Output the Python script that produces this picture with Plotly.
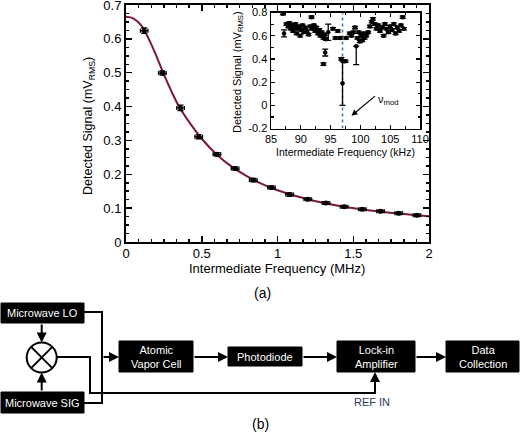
import plotly.graph_objects as go

# ---------------- data: main panel ----------------
freq_mhz = [0.12, 0.24, 0.36, 0.48, 0.60, 0.72, 0.84, 0.96, 1.08, 1.20, 1.32, 1.44, 1.56, 1.68, 1.80, 1.92]
signal_mv = [0.624, 0.499, 0.396, 0.311, 0.259, 0.217, 0.183, 0.161, 0.140, 0.126, 0.115, 0.104, 0.097, 0.091, 0.085, 0.079]
signal_err = [0.008, 0.006, 0.008, 0.006, 0.005, 0.005, 0.005, 0.005, 0.005, 0.004, 0.004, 0.004, 0.004, 0.004, 0.004, 0.004]
freq_err = [0.025] * 16

fit_x = [0, 0.05, 0.1, 0.15, 0.2, 0.25, 0.3, 0.35, 0.4, 0.5, 0.6, 0.7, 0.8, 0.9, 1.0, 1.2, 1.4, 1.6, 1.8, 2.0]
fit_y = [0.665, 0.660, 0.640, 0.600, 0.550, 0.495, 0.445, 0.400, 0.365, 0.305, 0.258, 0.222, 0.194, 0.171, 0.153, 0.126, 0.107, 0.094, 0.084, 0.076]

main_xticks = [0, 0.5, 1, 1.5, 2]
main_xticklabels = ["0", "0.5", "1", "1.5", "2"]
main_yticks = [0, 0.1, 0.2, 0.3, 0.4, 0.5, 0.6, 0.7]
main_yticklabels = ["0", "0.1", "0.2", "0.3", "0.4", "0.5", "0.6", "0.7"]

# ---------------- data: inset ----------------
inset_khz = [87.0, 87.2, 87.6, 87.9, 88.1, 88.3, 88.5, 88.7, 88.9, 89.1, 89.3, 89.5, 89.7, 89.9, 90.1, 90.3,
             90.5, 90.7, 91.0, 91.3, 91.8,
             91.6, 91.9, 92.2, 92.4, 92.6, 92.9, 93.1, 93.3, 93.5, 93.8, 94.0, 94.2, 94.6, 94.1, 93.8,
             95.4, 95.8, 96.2, 96.6, 96.8, 97.0, 97.2, 97.6, 97.5,
             98.2, 98.5, 98.8, 99.1, 99.3, 99.5, 99.7, 99.9, 100.1, 100.3, 100.5, 100.7, 101.0, 101.3,
             101.6, 101.9, 102.1, 102.4, 102.7, 103.0, 103.3, 103.6, 103.9, 104.1, 104.4, 104.7, 105.0,
             105.3, 105.6, 105.9, 106.2, 106.5, 106.8, 107.1, 107.3]
inset_sig = [0.79, 0.62, 0.70, 0.68, 0.71, 0.66, 0.69, 0.64, 0.67, 0.70, 0.62, 0.66, 0.68, 0.60, 0.65, 0.69,
             0.63, 0.67, 0.64, 0.61, 0.76,
             0.68, 0.66, 0.69, 0.64, 0.67, 0.62, 0.65, 0.60, 0.63, 0.58, 0.61, 0.57, 0.63, 0.455, 0.355,
             0.66, 0.58, 0.64, 0.58, 0.40, 0.19, 0.38, 0.58, 0.38,
             0.62, 0.60, 0.63, 0.67, 0.51, 0.58, 0.63, 0.55, 0.60, 0.56, 0.62, 0.58, 0.60, 0.63,
             0.68, 0.72, 0.745, 0.70, 0.66, 0.69, 0.64, 0.67, 0.60, 0.70, 0.66, 0.63, 0.68,
             0.65, 0.70, 0.62, 0.67, 0.64, 0.69, 0.76, 0.66]
inset_err_plus = [0.01] * len(inset_khz)
inset_err_minus = [0.01] * len(inset_khz)
inset_err_plus[1] = inset_err_minus[1] = 0.03     # 87.2 kHz
inset_err_plus[33] = inset_err_minus[33] = 0.07   # 94.6 kHz
inset_err_plus[34] = inset_err_minus[34] = 0.03   # 94.1 kHz
inset_err_plus[41] = inset_err_minus[41] = 0.19   # 97.0 kHz
inset_err_plus[49] = 0.0
inset_err_minus[49] = 0.16                        # 99.3 kHz
inset_ferr = [0.3] * len(inset_khz)
nu_mod_khz = 97.0
inset_yrange = [-0.2, 0.8]

inset_xticks = [85, 90, 95, 100, 105, 110]
inset_xticklabels = ["85", "90", "95", "100", "105", "110"]
inset_yticks = [-0.2, 0, 0.2, 0.4, 0.6, 0.8]
inset_yticklabels = ["-0.2", "0", "0.2", "0.4", "0.6", "0.8"]

# ---------------- block diagram labels ----------------
block_labels = ["Microwave LO", "Microwave SIG", "Atomic<br>Vapor Cell", "Photodiode",
                "Lock-in<br>Amplifier", "Data<br>Collection"]

FONT = "Liberation Sans, Arial, Helvetica, sans-serif"
W, H = 520, 432


def px(xp):
    return xp / W


def py(yp):
    return (H - yp) / H


fig = go.Figure()

# main fit curve
fig.add_trace(go.Scatter(x=fit_x, y=fit_y, mode="lines", line=dict(color="#7b1a35", width=2, shape="spline"),
                         xaxis="x", yaxis="y", hoverinfo="skip"))
# main data
fig.add_trace(go.Scatter(x=freq_mhz, y=signal_mv, mode="markers",
                         marker=dict(color="black", size=5),
                         error_y=dict(type="data", array=signal_err, color="black", thickness=1.3, width=3),
                         error_x=dict(type="data", array=freq_err, color="black", thickness=1.3, width=2),
                         xaxis="x", yaxis="y"))

# inset: modulation frequency dotted line
fig.add_trace(go.Scatter(x=[nu_mod_khz, nu_mod_khz], y=inset_yrange, mode="lines",
                         line=dict(color="#3f7fc0", width=1.6, dash="dot"), xaxis="x2", yaxis="y2",
                         hoverinfo="skip"))
# inset data
fig.add_trace(go.Scatter(x=inset_khz, y=inset_sig, mode="markers",
                         marker=dict(color="black", size=4.5),
                         error_y=dict(type="data", symmetric=False, array=inset_err_plus,
                                      arrayminus=inset_err_minus, color="black", thickness=1.3, width=3),
                         error_x=dict(type="data", array=inset_ferr, color="black", thickness=1.3, width=0),
                         xaxis="x2", yaxis="y2"))

# diagram: invisible trace to activate x3/y3
fig.add_trace(go.Scatter(x=[0], y=[432], mode="markers", marker=dict(opacity=0), xaxis="x3", yaxis="y3",
                         hoverinfo="skip"))

main_axis = dict(showline=True, linewidth=2, linecolor="black", mirror="allticks", ticks="inside",
                 ticklen=6, tickwidth=1.5, tickcolor="black", showgrid=False, zeroline=False,
                 automargin=False, ticklabeloverflow="allow",
                 tickfont=dict(size=13, color="black", family=FONT))
inset_axis = dict(showline=True, linewidth=1.5, linecolor="black", mirror="allticks", ticks="inside",
                  ticklen=4, tickwidth=1.2, tickcolor="black", showgrid=False, zeroline=False,
                  automargin=False, ticklabeloverflow="allow",
                  tickfont=dict(size=11, color="black", family=FONT))

layout = dict(
    template="none",
    width=W, height=H, margin=dict(l=0, r=0, t=0, b=0, pad=0, autoexpand=False), showlegend=False,
    paper_bgcolor="white", plot_bgcolor="white", font=dict(family=FONT, color="black"),
    xaxis=dict(main_axis, domain=[px(126), px(429)], range=[0, 2], tickvals=main_xticks,
               ticktext=main_xticklabels, anchor="y", ticklabelstandoff=-2,
               minor=dict(dtick=0.5 / 6, ticks="inside", ticklen=3, tickcolor="black", showgrid=False)),
    yaxis=dict(main_axis, domain=[py(242), py(5)], range=[0, 0.7], tickvals=main_yticks,
               ticktext=main_yticklabels, anchor="x",
               minor=dict(dtick=0.025, ticks="inside", ticklen=3, tickcolor="black", showgrid=False)),
    xaxis2=dict(inset_axis, domain=[px(271), px(420)], range=[85, 110], tickvals=inset_xticks,
                ticktext=inset_xticklabels, anchor="y2",
                minor=dict(dtick=2.5, ticks="inside", ticklen=2.5, tickcolor="black", showgrid=False)),
    yaxis2=dict(inset_axis, domain=[py(128.5), py(12.5)], range=inset_yrange, tickvals=inset_yticks,
                ticktext=inset_yticklabels, anchor="x2",
                minor=dict(dtick=0.1, ticks="inside", ticklen=2.5, tickcolor="black", showgrid=False)),
    xaxis3=dict(domain=[0, 1], range=[0, W], visible=False, anchor="y3", automargin=False),
    yaxis3=dict(domain=[0, py(290)], range=[H, 290], visible=False, anchor="x3", automargin=False),
)
fig.update_layout(**layout)

annotations = []
shapes = []

# inset white background behind the inset plot area
shapes.append(dict(type="rect", xref="paper", yref="paper", x0=px(271), x1=px(420), y0=py(128.5), y1=py(12.5),
                   fillcolor="white", line=dict(width=0), layer="below"))

C = dict(xanchor="center", yanchor="middle", showarrow=False)
# axis titles
annotations += [
    dict(C, text="Detected Signal (mV<sub>RMS</sub>)", x=px(89), y=py(126), xref="paper", yref="paper",
         textangle=-90, font=dict(size=12.5)),
    dict(C, text="Intermediate Frequency (MHz)", x=px(277), y=py(268), xref="paper", yref="paper",
         font=dict(size=13)),
    dict(C, text="(a)", x=px(262), y=py(293), xref="paper", yref="paper", font=dict(size=14)),
    dict(C, text="Detected Signal (mV<sub>RMS</sub>)", x=px(238), y=py(72), xref="paper", yref="paper",
         textangle=-90, font=dict(size=11)),
    dict(C, text="Intermediate Frequency (kHz)", x=px(345), y=py(152), xref="paper", yref="paper",
         font=dict(size=10.5)),
    # nu_mod label
    dict(C, text="ν<sub>mod</sub>", x=104.6, y=0.05, xref="x2", yref="y2", font=dict(size=11)),
    dict(C, text="(b)", x=px(260), y=py(424), xref="paper", yref="paper", font=dict(size=14)),
]
# nu_mod arrow
annotations.append(dict(text="", x=98.5, y=-0.09, ax=102.7, ay=0.09, xref="x2", yref="y2", axref="x2",
                        ayref="y2", showarrow=True, arrowhead=2, arrowsize=1, arrowwidth=1.2,
                        arrowcolor="black"))

# ---------------- block diagram ----------------
boxes = [(1, 84, 303, 323), (1, 84, 392, 413), (119, 193, 341, 372), (228, 302, 347, 366),
         (337, 415, 341, 372), (446, 519, 341, 372)]
for (x0, x1, y0, y1), lab in zip(boxes, block_labels):
    shapes.append(dict(type="rect", xref="x3", yref="y3", x0=x0, x1=x1, y0=y0, y1=y1,
                       fillcolor="black", line=dict(color="black", width=1)))
    annotations.append(dict(C, text=lab, x=(x0 + x1) / 2, y=(y0 + y1) / 2, xref="x3", yref="y3",
                            font=dict(size=11, color="white")))

line_style = dict(color="black", width=2)
# LO / SIG combiner
shapes.append(dict(type="path", xref="x3", yref="y3", path="M 84 312 L 102 312 L 102 403 L 84 403",
                   line=line_style))
# mixer output to lock-in REF
shapes.append(dict(type="path", xref="x3", yref="y3", path="M 57 357 L 90 357 L 90 393 L 375 393 L 375 380",
                   line=line_style))
# mixer circle
cx, cy, r = 41.7, 357.5, 15
shapes.append(dict(type="circle", xref="x3", yref="y3", x0=cx - r, x1=cx + r, y0=cy - r, y1=cy + r,
                   fillcolor="white", line=line_style))
d = r * 0.707
shapes.append(dict(type="line", xref="x3", yref="y3", x0=cx - d, x1=cx + d, y0=cy - d, y1=cy + d, line=line_style))
shapes.append(dict(type="line", xref="x3", yref="y3", x0=cx - d, x1=cx + d, y0=cy + d, y1=cy - d, line=line_style))

arrows = [((41.7, 323), (41.7, 342.5)), ((41.7, 392), (41.7, 372.5)), ((102, 357), (119, 357)),
          ((193, 357), (228, 357)), ((302, 357), (337, 357)), ((415, 357), (446, 357)),
          ((375, 393), (375, 372))]
for (tx, ty), (hx, hy) in arrows:
    annotations.append(dict(text="", x=hx, y=hy, ax=tx, ay=ty, xref="x3", yref="y3", axref="x3", ayref="y3",
                            showarrow=True, arrowhead=2, arrowsize=1, arrowwidth=2, arrowcolor="black"))

annotations.append(dict(C, text="REF IN", x=372, y=402, xref="x3", yref="y3",
                        font=dict(size=11, color="#2b3c5a")))

fig.update_layout(shapes=shapes, annotations=annotations)
fig.write_html("out.html", config={"displayModeBar": False, "staticPlot": True},
               post_script="document.body.style.margin='0';document.body.style.overflow='hidden';")
